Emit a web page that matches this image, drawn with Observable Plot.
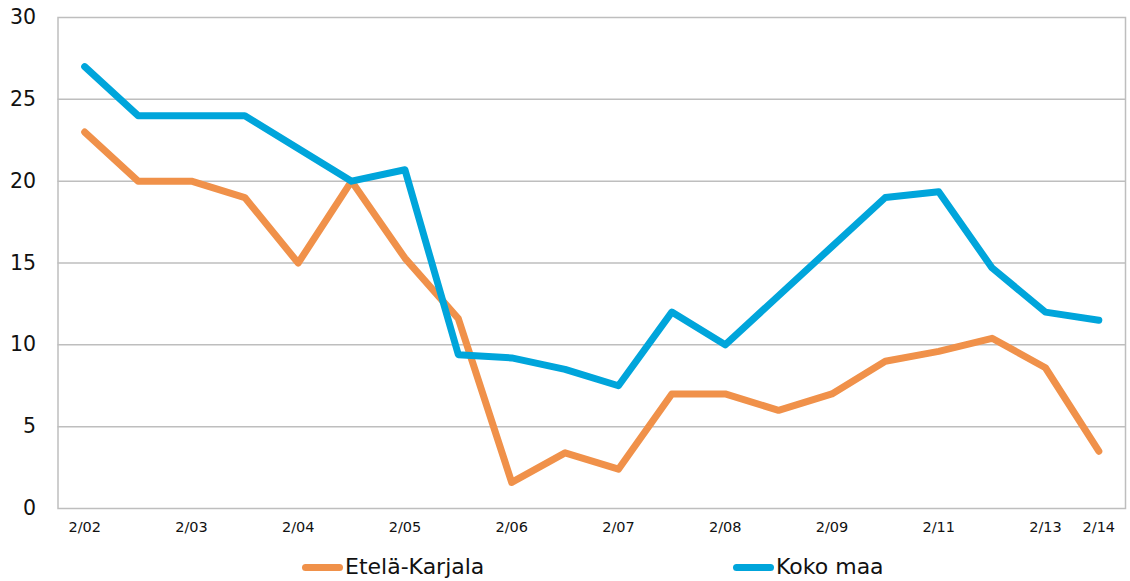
<!DOCTYPE html>
<html>
<head>
<meta charset="utf-8">
<script src="https://cdn.jsdelivr.net/npm/d3@7"></script>
<script src="https://cdn.jsdelivr.net/npm/@observablehq/plot@0.6"></script>
<style>
  html, body { margin: 0; padding: 0; background: #fff; }
  #chart { width: 1130px; position: relative; font-family: "DejaVu Sans", sans-serif; }
  .legend { position: relative; height: 36px; width: 1130px; }
  .item { position: absolute; top: 9px; display: flex; align-items: center; font-size: 22px; line-height: 26px; color: #111; }
  .sw { width: 41px; height: 7px; border-radius: 4px; margin-right: 2px; }
</style>
</head>
<body>
<div id="chart"></div>
<script>
// Data
const periods = d3.range(20); // 20 observations
const tickLabels = ["2/02","","2/03","","2/04","","2/05","","2/06","","2/07","","2/08","","2/09","","2/11","","2/13","2/14"];
const seriesNames = ["Etelä-Karjala", "Koko maa"];
const seriesColors = ["#F0914A", "#00A5DB"];
const etelaKarjala = [23, 20, 20, 19, 15, 20, 15.3, 11.6, 1.6, 3.4, 2.4, 7, 7, 6, 7, 9, 9.6, 10.4, 8.6, 3.5];
const kokoMaa = [27, 24, 24, 24, 22, 20, 20.7, 9.4, 9.2, 8.5, 7.5, 12, 10, 13, 16, 19, 19.35, 14.7, 12, 11.5];
const yTicks = [0, 5, 10, 15, 20, 25, 30];
const gridTicks = [5, 10, 15, 20, 25];

const rows = [];
periods.forEach((p, i) => {
  rows.push({period: p, value: etelaKarjala[i], series: seriesNames[0]});
  rows.push({period: p, value: kokoMaa[i], series: seriesNames[1]});
});

const chart = Plot.plot({
  width: 1130,
  height: 545,
  marginLeft: 57.5,
  marginRight: 5,
  marginTop: 17,
  marginBottom: 37,
  style: {fontFamily: "DejaVu Sans, sans-serif", color: "#111", background: "#fff"},
  x: {type: "point", domain: periods, padding: 0.5, round: false},
  y: {domain: [0, 30]},
  color: {domain: seriesNames, range: seriesColors},
  marks: [
    Plot.ruleY(gridTicks, {stroke: "#BEBEBE", strokeWidth: 1.5}),
    Plot.frame({stroke: "#BEBEBE", strokeWidth: 1.5}),
    Plot.axisY({ticks: yTicks, tickSize: 0, tickPadding: 22, fontSize: 20.5, label: null}),
    Plot.axisX({ticks: periods.filter(i => tickLabels[i] !== ""), tickFormat: i => tickLabels[i], tickSize: 0, tickPadding: 13, fontSize: 14.5, label: null, style: {letterSpacing: "0.5px"}}),
    Plot.line(rows, {x: "period", y: "value", z: "series", stroke: "series", strokeWidth: 7, strokeLinecap: "round", strokeLinejoin: "round"})
  ]
});
document.getElementById("chart").appendChild(chart);

const legend = document.createElement("div");
legend.className = "legend";
const legendLeft = [302, 733];
seriesNames.forEach((name, i) => {
  const it = document.createElement("div");
  it.className = "item";
  it.style.left = legendLeft[i] + "px";
  const sw = document.createElement("span");
  sw.className = "sw";
  sw.style.background = seriesColors[i];
  const tx = document.createElement("span");
  tx.textContent = name;
  it.appendChild(sw);
  it.appendChild(tx);
  legend.appendChild(it);
});
document.getElementById("chart").appendChild(legend);
</script>
</body>
</html>
